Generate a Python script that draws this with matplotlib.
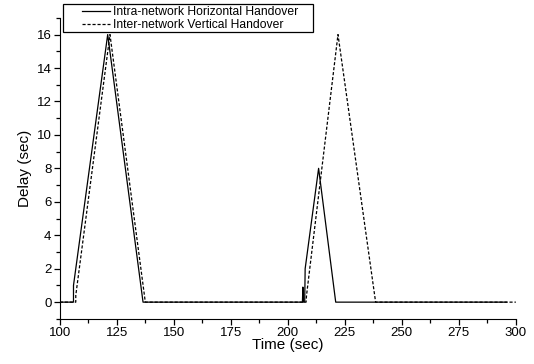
import numpy as np
import matplotlib.pyplot as plt
from matplotlib.patches import Rectangle
from matplotlib.ticker import MultipleLocator

plt.rcParams['font.family'] = ['Liberation Sans', 'DejaVu Sans']

# intra-network horizontal handover
t_h = [100, 106, 106, 121, 136.5, 206.4, 206.6, 206.8, 207.4, 207.6, 213.5, 221, 296]
d_h = [0, 0, 1, 16, 0, 0, 0.9, 0, 0, 2, 8, 0, 0]

# inter-network vertical handover
t_v = [100, 107, 107, 122, 137.5, 208, 208.2, 222, 238.5, 300]
d_v = [0, 0, 0.4, 16, 0, 0, 0.4, 16, 0, 0]

W, H = 534, 364
fig = plt.figure(figsize=(W / 100, H / 100), dpi=100)
ax = fig.add_axes([0.112, 0.124, 0.854, 0.827])

ax.plot(t_h, d_h, color='black', lw=0.9, label='Intra-network Horizontal Handover')
ax.plot(t_v, d_v, color='black', lw=0.9, linestyle=(0, (2.5, 1.5)),
        label='Inter-network Vertical Handover')

ax.set_xlim(100, 300)
ax.set_ylim(-1, 17)
ax.xaxis.set_major_locator(MultipleLocator(25))
ax.xaxis.set_minor_locator(MultipleLocator(12.5))
ax.yaxis.set_major_locator(MultipleLocator(2))
ax.yaxis.set_minor_locator(MultipleLocator(1))
ax.tick_params(which='both', direction='out', labelsize=9.5, width=0.9)
ax.tick_params(which='major', length=4, pad=2)
ax.tick_params(which='minor', length=3)
ax.spines['top'].set_visible(False)
ax.spines['right'].set_visible(False)

ax.set_xlabel('Time (sec)', fontsize=11, labelpad=-1)
ax.set_ylabel('Delay (sec)', fontsize=11, labelpad=3)

# legend text without frame, box drawn separately (wide side padding)
leg = fig.legend(loc='center left', bbox_to_anchor=(82 / W, 1 - 18.5 / H), fontsize=8.7,
                 frameon=False, borderpad=0, labelspacing=0.05, handlelength=2.3,
                 handletextpad=0.25, borderaxespad=0)
fig.patches.append(Rectangle((63 / W, 1 - 32 / H), 250 / W, 28 / H, transform=fig.transFigure,
                             fill=False, edgecolor='black', lw=0.9))

fig.savefig('out.png', dpi=100)
